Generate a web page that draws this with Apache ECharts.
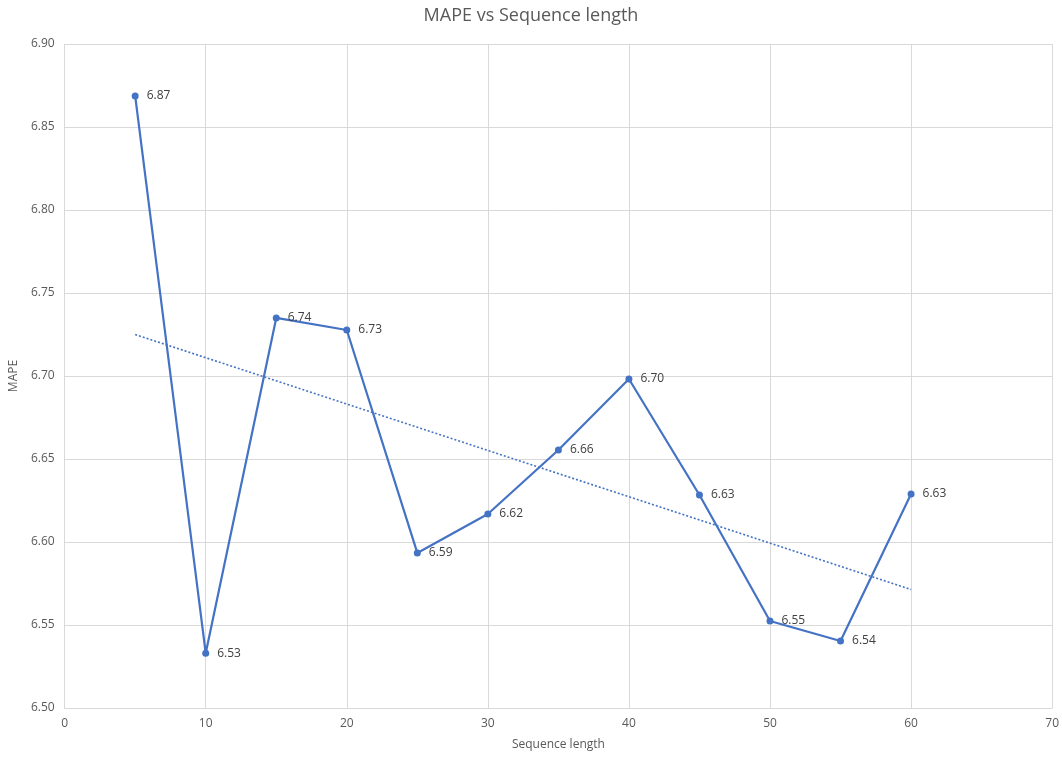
<!DOCTYPE html>
<html>
<head>
<meta charset="utf-8">
<script src="https://cdn.jsdelivr.net/npm/echarts@6/dist/echarts.min.js"></script>
<style>
  html, body { margin: 0; padding: 0; background: #fff; }
  #chart { width: 1062px; height: 757px; }
</style>
</head>
<body>
<div id="chart"></div>
<script>
// Sequence lengths tested and the resulting MAPE
const seqLengths = [5, 10, 15, 20, 25, 30, 35, 40, 45, 50, 55, 60];
const mapeValues = [6.8687, 6.533, 6.735, 6.7277, 6.5934, 6.6169, 6.6554, 6.6982, 6.6283, 6.5524, 6.5404, 6.6289];

const xTicks = { min: 0, max: 70, interval: 10 };
const yTicks = { min: 6.5, max: 6.9, interval: 0.05 };

// Least-squares linear trend over the measured points
function linearTrend(xs, ys) {
  const n = xs.length;
  const mx = xs.reduce((a, b) => a + b, 0) / n;
  const my = ys.reduce((a, b) => a + b, 0) / n;
  let sxy = 0, sxx = 0;
  for (let i = 0; i < n; i++) {
    sxy += (xs[i] - mx) * (ys[i] - my);
    sxx += (xs[i] - mx) * (xs[i] - mx);
  }
  const slope = sxy / sxx;
  const b = my - slope * mx;
  return [[xs[0], slope * xs[0] + b], [xs[n - 1], slope * xs[n - 1] + b]];
}

const pointData = seqLengths.map((x, i) => [x, mapeValues[i]]);
const trendData = linearTrend(seqLengths, mapeValues);

const font = '"Open Sans", "Liberation Sans", sans-serif';
const chart = echarts.init(document.getElementById('chart'), null, { renderer: 'canvas' });

chart.setOption({
  animation: false,
  backgroundColor: '#ffffff',
  title: {
    text: 'MAPE vs Sequence length',
    left: 'center',
    top: 2,
    textStyle: { fontFamily: font, fontSize: 18, fontWeight: 'normal', color: '#595959' }
  },
  grid: { left: 61, right: 5, top: 44, bottom: 49, containLabel: false },
  xAxis: {
    type: 'value',
    min: xTicks.min, max: xTicks.max, interval: xTicks.interval,
    name: 'Sequence length',
    nameLocation: 'middle',
    nameGap: 31,
    nameTextStyle: { fontFamily: font, fontSize: 12, color: '#595959' },
    axisLine: { show: true, lineStyle: { color: '#d9d9d9', width: 1 } },
    axisTick: { show: false },
    axisLabel: { fontFamily: font, fontSize: 12, color: '#595959', margin: 10 },
    splitLine: { show: true, lineStyle: { color: '#d9d9d9', width: 1 } }
  },
  yAxis: {
    type: 'value',
    min: yTicks.min, max: yTicks.max, interval: yTicks.interval,
    name: 'MAPE',
    nameLocation: 'middle',
    nameGap: 42,
    nameRotate: 90,
    nameTextStyle: { fontFamily: font, fontSize: 12, color: '#595959' },
    axisLine: { show: false },
    axisTick: { show: false },
    axisLabel: {
      fontFamily: font, fontSize: 12, color: '#595959', margin: 10,
      formatter: v => v.toFixed(2)
    },
    splitLine: { show: true, lineStyle: { color: '#d9d9d9', width: 1 } }
  },
  series: [
    {
      name: 'MAPE',
      type: 'line',
      data: pointData,
      symbol: 'circle',
      symbolSize: 7,
      lineStyle: { color: '#4472c4', width: 2.2 },
      itemStyle: { color: '#4472c4' },
      label: {
        show: true,
        position: 'right',
        distance: 8,
        fontFamily: font,
        fontSize: 12,
        color: '#404040',
        formatter: p => p.value[1].toFixed(2)
      },
      z: 3
    },
    {
      name: 'Trend',
      type: 'line',
      data: trendData,
      symbol: 'none',
      lineStyle: { color: '#4472c4', width: 1.6, type: [2, 2] },
      silent: true,
      z: 2
    }
  ]
});
</script>
</body>
</html>
